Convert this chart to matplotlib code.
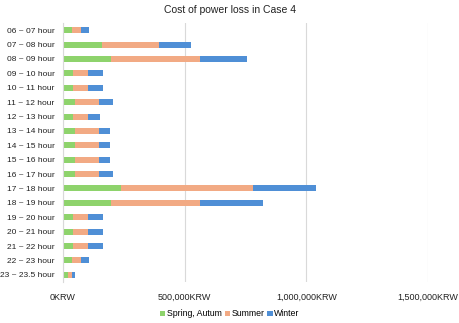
import matplotlib
matplotlib.use("Agg")
import matplotlib.pyplot as plt
from matplotlib.ticker import FuncFormatter

plt.rcParams['font.family'] = ['Noto Sans CJK KR', 'DejaVu Sans']

categories = ["06 ~ 07 hour", "07 ~ 08 hour", "08 ~ 09 hour", "09 ~ 10 hour", "10 ~ 11 hour",
              "11 ~ 12 hour", "12 ~ 13 hour", "13 ~ 14 hour", "14 ~ 15 hour", "15 ~ 16 hour",
              "16 ~ 17 hour", "17 ~ 18 hour", "18 ~ 19 hour", "19 ~ 20 hour", "20 ~ 21 hour",
              "21 ~ 22 hour", "22 ~ 23 hour", "23 ~ 23.5 hour"]
spring_autum = [36000, 159000, 198000, 41000, 41000, 51000, 41000, 51000, 51000, 51000,
                51000, 237000, 198000, 41000, 41000, 41000, 36000, 19000]
summer = [38000, 234000, 364000, 63000, 63000, 97000, 63000, 97000, 97000, 97000,
          97000, 542000, 364000, 63000, 63000, 63000, 38000, 16000]
winter = [31000, 131000, 194000, 60000, 60000, 57000, 47000, 44000, 44000, 44000,
          57000, 259000, 258000, 60000, 60000, 60000, 31000, 15000]
series_names = ["Spring, Autum", "Summer", "Winter"]
xticks = [0, 500000, 1000000, 1500000]

colors = ['#8ED36C', '#F2AA84', '#4F8FD6']
lab = ['Liberation Sans', 'DejaVu Sans']

fig = plt.figure(figsize=(4.6, 3.23), dpi=100)
ax = fig.add_axes([63/460, 1-282/323, (428-63)/460, (282-23)/323])

y = list(range(len(categories)))
left = [0]*len(categories)
for vals, name, c in zip([spring_autum, summer, winter], series_names, colors):
    ax.barh(y, vals, left=left, height=0.42, color=c, label=name)
    left = [l + v for l, v in zip(left, vals)]

ax.set_ylim(len(categories)-0.5, -0.5)
ax.set_xlim(0, 1500000)
ax.set_yticks(y)
ax.set_yticklabels(categories, fontsize=6, family=lab, color='#222222')
ax.set_xticks(xticks)
ax.xaxis.set_major_formatter(FuncFormatter(lambda v, p: f"{int(v):,}KRW"))
for lbl in ax.get_xticklabels():
    lbl.set_family(lab)
    lbl.set_fontsize(6.5)
    lbl.set_color('#222222')
ax.tick_params(axis='x', length=0, pad=8)
ax.tick_params(axis='y', length=0, pad=6)
ax.grid(axis='x', color='#D9D9D9', linewidth=0.8)
ax.set_axisbelow(True)
for s in ['top', 'right', 'bottom']:
    ax.spines[s].set_visible(False)
ax.spines['left'].set_color('#D9D9D9')

fig.text(0.5, 1-10/323, "Cost of power loss in Case 4", ha='center', va='center',
         fontsize=7.5, family=lab, color='#222222')
fig.legend(loc='center', bbox_to_anchor=(0.5, 1-314/323), ncol=3, frameon=False,
           prop={'family': lab, 'size': 6.3},
           handlelength=0.6, handleheight=0.6, handletextpad=0.2, columnspacing=0.3)

fig.savefig("out.png", dpi=100)
